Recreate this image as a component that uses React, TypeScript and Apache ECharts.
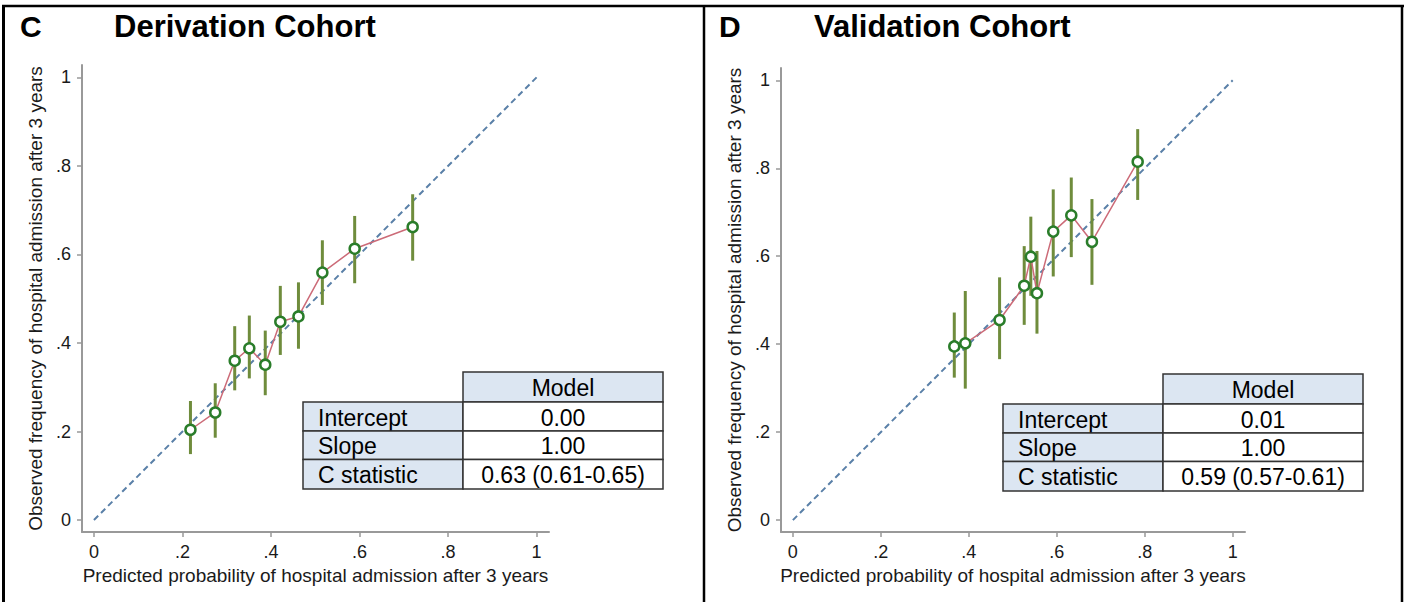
import React, { useEffect, useRef } from "react";
import * as echarts from "echarts";

// ---- Data ----
const TICKS = [0, 0.2, 0.4, 0.6, 0.8, 1];
const TICK_LABELS = ["0", ".2", ".4", ".6", ".8", "1"];
const REF_LINE = [0, 1];

const DERIV_PRED = [0.218, 0.274, 0.318, 0.351, 0.387, 0.421, 0.462, 0.516, 0.589, 0.72];
const DERIV_OBS = [0.204, 0.243, 0.36, 0.388, 0.351, 0.448, 0.46, 0.559, 0.613, 0.662];
const DERIV_LO = [0.149, 0.186, 0.293, 0.32, 0.282, 0.373, 0.387, 0.486, 0.535, 0.586];
const DERIV_HI = [0.269, 0.309, 0.438, 0.462, 0.428, 0.529, 0.537, 0.632, 0.687, 0.736];

const VALID_PRED = [0.367, 0.392, 0.47, 0.526, 0.541, 0.555, 0.592, 0.633, 0.68, 0.784];
const VALID_OBS = [0.395, 0.402, 0.455, 0.533, 0.599, 0.516, 0.656, 0.693, 0.633, 0.815];
const VALID_LO = [0.324, 0.299, 0.366, 0.444, 0.51, 0.424, 0.554, 0.598, 0.535, 0.728];
const VALID_HI = [0.472, 0.521, 0.552, 0.623, 0.69, 0.612, 0.752, 0.779, 0.73, 0.889];

const TABLE_HEADER = "Model";
const TABLE_ROWS = ["Intercept", "Slope", "C statistic"];
const DERIV_TABLE = ["0.00", "1.00", "0.63 (0.61-0.65)"];
const VALID_TABLE = ["0.01", "1.00", "0.59 (0.57-0.61)"];

const PANEL_LETTERS = ["C", "D"];
const PANEL_TITLES = ["Derivation Cohort", "Validation Cohort"];
const X_TITLE = "Predicted probability of hospital admission after 3 years";
const Y_TITLE = "Observed frequency of hospital admission after 3 years";

// ---- Styles ----
const FONT = "Arial, 'Liberation Sans', sans-serif";
const AXIS_COLOR = "#999999";
const TEXT_COLOR = "#1a1a1a";
const REF_COLOR = "#5a80a8";
const LINE_COLOR = "#cc6b78";
const BAR_COLOR = "#6f8c3c";
const MARK_COLOR = "#2a7d2a";
const CELL_BLUE = "#dce6f2";
const CELL_STROKE = "#333333";

const fmt = (v: number) => {
  const i = TICKS.findIndex((t) => Math.abs(t - v) < 1e-6);
  return i >= 0 ? TICK_LABELS[i] : "";
};

function makeXAxis(gridIndex: number) {
  return {
    type: "value",
    gridIndex,
    min: -0.027,
    max: 1.028,
    axisLine: { show: true, onZero: false, lineStyle: { color: AXIS_COLOR, width: 2 } },
    axisTick: { show: true, length: 5, customValues: TICKS, lineStyle: { color: AXIS_COLOR, width: 1.5 } },
    axisLabel: { customValues: TICKS, formatter: fmt, fontSize: 18, color: TEXT_COLOR, margin: 11, fontFamily: FONT },
    splitLine: { show: false },
    name: X_TITLE,
    nameLocation: "middle",
    nameGap: 32,
    nameTextStyle: { fontSize: 19, color: TEXT_COLOR, fontFamily: FONT },
  };
}

function makeYAxis(gridIndex: number) {
  return {
    type: "value",
    gridIndex,
    min: -0.027,
    max: 1.028,
    axisLine: { show: true, onZero: false, lineStyle: { color: AXIS_COLOR, width: 2 } },
    axisTick: { show: true, length: 5, customValues: TICKS, lineStyle: { color: AXIS_COLOR, width: 1.5 } },
    axisLabel: { customValues: TICKS, formatter: fmt, fontSize: 18, color: TEXT_COLOR, margin: 11, fontFamily: FONT },
    splitLine: { show: false },
    name: Y_TITLE,
    nameLocation: "middle",
    nameGap: 37,
    nameTextStyle: { fontSize: 19, color: TEXT_COLOR, fontFamily: FONT },
  };
}

function panelSeries(idx: number, pred: number[], obs: number[], lo: number[], hi: number[]) {
  return [
    {
      type: "line",
      xAxisIndex: idx,
      yAxisIndex: idx,
      data: REF_LINE.map((v) => [v, v]),
      symbol: "none",
      lineStyle: { color: REF_COLOR, width: 2, type: [6, 4] },
      z: 1,
      silent: true,
    },
    {
      type: "custom",
      xAxisIndex: idx,
      yAxisIndex: idx,
      data: pred.map((x, i) => [x, lo[i], hi[i]]),
      encode: { x: 0, y: [1, 2] },
      renderItem: (params: any, api: any) => {
        const x = api.value(0);
        const p1 = api.coord([x, api.value(1)]);
        const p2 = api.coord([x, api.value(2)]);
        return {
          type: "line",
          shape: { x1: p1[0], y1: p1[1], x2: p2[0], y2: p2[1] },
          style: { stroke: BAR_COLOR, lineWidth: 3 },
        };
      },
      z: 2,
      silent: true,
    },
    {
      type: "line",
      xAxisIndex: idx,
      yAxisIndex: idx,
      data: pred.map((x, i) => [x, obs[i]]),
      symbol: "circle",
      symbolSize: 10,
      itemStyle: { color: "#ffffff", borderColor: MARK_COLOR, borderWidth: 2.5 },
      lineStyle: { color: LINE_COLOR, width: 1.5 },
      z: 3,
      silent: true,
    },
  ];
}

function tableGraphics(left: number, top: number, values: string[]) {
  const c1 = 160;
  const c2 = 200;
  const rowH = [30, 29, 28.5, 29.5];
  const els: any[] = [];
  els.push({
    type: "rect",
    shape: { x: left + c1, y: top, width: c2, height: rowH[0] },
    style: { fill: CELL_BLUE, stroke: CELL_STROKE, lineWidth: 1.5 },
  });
  els.push({
    type: "text",
    x: left + c1 + c2 / 2,
    y: top + rowH[0] / 2 + 1,
    style: { text: TABLE_HEADER, fill: "#000", fontSize: 23, fontFamily: FONT, textAlign: "center", textVerticalAlign: "middle" },
  });
  let y = top + rowH[0];
  TABLE_ROWS.forEach((label, i) => {
    const h = rowH[i + 1];
    els.push({
      type: "rect",
      shape: { x: left, y, width: c1, height: h },
      style: { fill: CELL_BLUE, stroke: CELL_STROKE, lineWidth: 1.5 },
    });
    els.push({
      type: "rect",
      shape: { x: left + c1, y, width: c2, height: h },
      style: { fill: "#ffffff", stroke: CELL_STROKE, lineWidth: 1.5 },
    });
    els.push({
      type: "text",
      x: left + 15,
      y: y + h / 2 + 1,
      style: { text: label, fill: "#000", fontSize: 23, fontFamily: FONT, textAlign: "left", textVerticalAlign: "middle" },
    });
    els.push({
      type: "text",
      x: left + c1 + c2 / 2,
      y: y + h / 2 + 1,
      style: { text: values[i], fill: "#000", fontSize: 23, fontFamily: FONT, textAlign: "center", textVerticalAlign: "middle" },
    });
    y += h;
  });
  return els;
}

export default function App() {
  const ref = useRef<HTMLDivElement>(null);
  useEffect(() => {
    if (!ref.current) return;
    const chart = echarts.init(ref.current, undefined, { renderer: "svg" });
    const graphic: any[] = [
      { type: "line", shape: { x1: 2, y1: 6, x2: 1404, y2: 6 }, style: { stroke: "#000", lineWidth: 2.5 } },
      { type: "line", shape: { x1: 3.5, y1: 5, x2: 3.5, y2: 602 }, style: { stroke: "#000", lineWidth: 3 } },
      { type: "line", shape: { x1: 704, y1: 5, x2: 704, y2: 602 }, style: { stroke: "#000", lineWidth: 2.5 } },
      { type: "line", shape: { x1: 1402, y1: 5, x2: 1402, y2: 602 }, style: { stroke: "#000", lineWidth: 2.5 } },
      { type: "text", x: 20, y: 26, style: { text: PANEL_LETTERS[0], fill: "#000", fontSize: 30, fontWeight: "bold", fontFamily: FONT, textVerticalAlign: "middle" } },
      { type: "text", x: 114, y: 26, style: { text: PANEL_TITLES[0], fill: "#000", fontSize: 31, fontWeight: "bold", fontFamily: FONT, textVerticalAlign: "middle" } },
      { type: "text", x: 719, y: 26, style: { text: PANEL_LETTERS[1], fill: "#000", fontSize: 30, fontWeight: "bold", fontFamily: FONT, textVerticalAlign: "middle" } },
      { type: "text", x: 814, y: 26, style: { text: PANEL_TITLES[1], fill: "#000", fontSize: 31, fontWeight: "bold", fontFamily: FONT, textVerticalAlign: "middle" } },
      ...tableGraphics(303, 372, DERIV_TABLE),
      ...tableGraphics(1003, 374, VALID_TABLE),
    ];
    chart.setOption({
      animation: false,
      backgroundColor: "#ffffff",
      grid: [
        { left: 82, top: 65, width: 467, height: 467 },
        { left: 781, top: 68, width: 464, height: 464 },
      ],
      xAxis: [makeXAxis(0), makeXAxis(1)],
      yAxis: [makeYAxis(0), makeYAxis(1)],
      series: [
        ...panelSeries(0, DERIV_PRED, DERIV_OBS, DERIV_LO, DERIV_HI),
        ...panelSeries(1, VALID_PRED, VALID_OBS, VALID_LO, VALID_HI),
      ],
      graphic,
    });
    return () => chart.dispose();
  }, []);
  return (
    <div
      ref={ref}
      style={{ position: "absolute", left: 0, top: 0, width: 1407, height: 602, background: "#fff" }}
    />
  );
}
